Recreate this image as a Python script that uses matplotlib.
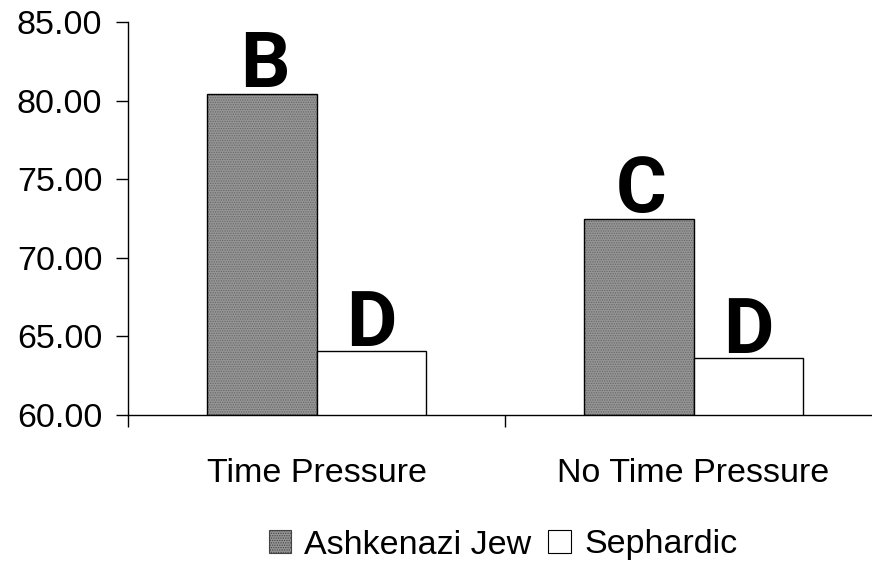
import matplotlib
matplotlib.use("Agg")
import matplotlib.pyplot as plt
import numpy as np
from matplotlib.patches import Patch

categories = ["Time Pressure", "No Time Pressure"]
series_names = ["Ashkenazi Jew", "Sephardic"]
ashkenazi = [80.45, 72.45]
sephardic = [64.1, 63.65]
letters_ashkenazi = ["B", "C"]
letters_sephardic = ["D", "D"]
yticks = [60, 65, 70, 75, 80, 85]

plt.rcParams['font.family'] = ['Liberation Sans', 'DejaVu Sans']
plt.rcParams['hatch.linewidth'] = 0.6

fig = plt.figure(figsize=(8.72, 5.65), dpi=100)
ax = fig.add_axes([128/872, 1-415/565, 754/872, (415-22)/565])

x = np.arange(len(categories))
w = 0.29
gray_face = '#959595'
hatch_col = '#666666'
fs = 24.5
letter_font = ['Roboto', 'DejaVu Sans']

# Ashkenazi bars: textured gray
ax.bar(x - w/2, np.array(ashkenazi) - 60, w, bottom=60, facecolor=gray_face,
       edgecolor=hatch_col, hatch='.......', linewidth=0, zorder=2)
ax.bar(x - w/2, np.array(ashkenazi) - 60, w, bottom=60, facecolor='none',
       edgecolor='black', linewidth=1.0, zorder=3)
# Sephardic bars: white
ax.bar(x + w/2, np.array(sephardic) - 60, w, bottom=60, facecolor='white',
       edgecolor='black', linewidth=1.0, zorder=3)

offsets_a = [4.5, 5]
offsets_s = [3.5, 3.5]
for i in range(len(categories)):
    ax.annotate(letters_ashkenazi[i], (x[i] - w/2, ashkenazi[i]), xytext=(2, offsets_a[i]),
                textcoords='offset points', ha='center', va='baseline',
                fontsize=56, fontweight='bold', family=letter_font)
    ax.annotate(letters_sephardic[i], (x[i] + w/2, sephardic[i]), xytext=(0, offsets_s[i]),
                textcoords='offset points', ha='center', va='baseline',
                fontsize=56, fontweight='bold', family=letter_font)

ax.set_xlim(-0.5, 1.5)
ax.set_ylim(60, 85)
ax.set_yticks(yticks)
ax.set_yticklabels([f"{v:.2f}" for v in yticks], fontsize=fs)
ax.tick_params(axis='y', direction='out', length=8.5, width=1, pad=10)

ax.set_xticks(x)
ax.set_xticklabels(categories, fontsize=fs)
ax.tick_params(axis='x', which='major', length=0, pad=31)
ax.set_xticks([-0.5, 0.5, 1.5], minor=True)
ax.tick_params(axis='x', which='minor', direction='out', length=8.5, width=1)

for s in ['top', 'right']:
    ax.spines[s].set_visible(False)
ax.spines['left'].set_linewidth(1)
ax.spines['bottom'].set_linewidth(1)

handles = [Patch(facecolor=gray_face, edgecolor='#444444', hatch='.......', linewidth=0.8),
           Patch(facecolor='white', edgecolor='black', linewidth=0.8)]
fig.legend(handles, series_names, loc='center', bbox_to_anchor=(503/872, 1-545/565),
           ncol=2, frameon=False, fontsize=fs, handlelength=0.65, handleheight=0.65,
           handletextpad=0.4, columnspacing=0.5, borderpad=0)

fig.savefig("out.png", dpi=100)
